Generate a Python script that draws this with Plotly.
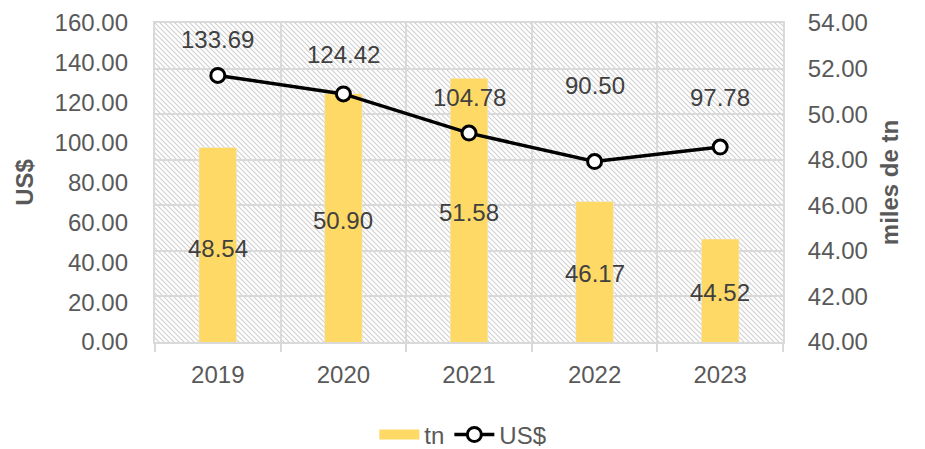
import base64
import plotly.graph_objects as go

# datos
years = ["2019", "2020", "2021", "2022", "2023"]
tn = [48.54, 50.90, 51.58, 46.17, 44.52]          # miles de tn (eje derecho)
usd = [133.69, 124.42, 104.78, 90.50, 97.78]      # US$ (eje izquierdo)

# posiciones de las etiquetas
tn_label_y = [44.11, 45.34, 45.69, 43.02, 42.19]
usd_label_y = [151.5, 144.2, 122.5, 128.5, 122.5]

FONT = "Liberation Sans, Arial, sans-serif"
FS = 24
GRID = "#d9d9d9"
TXT = "#595959"
LBL = "#404040"
BAR = "#FFD966"

# la página añade 8px de margen al body: se compensa aquí
W, H = 917, 441
M = dict(l=147, r=142, t=15, b=107)
pw, ph = W - M["l"] - M["r"], H - M["t"] - M["b"]

# fondo rayado del área de trazado (svg en línea)
svg = (
    f'<svg xmlns="http://www.w3.org/2000/svg" width="{pw}" height="{ph}">'
    '<defs><pattern id="h" width="5" height="5" patternUnits="userSpaceOnUse">'
    f'<path d="M-1,-1 L6,6 M-1,4 L1,6 M4,-1 L6,1" stroke="#cfcfcf" stroke-width="1.1"/>'
    '</pattern></defs>'
    f'<rect width="{pw}" height="{ph}" fill="url(#h)"/></svg>'
)
bg_src = "data:image/svg+xml;base64," + base64.b64encode(svg.encode()).decode()

fig = go.Figure()

fig.add_trace(go.Bar(
    x=years, y=tn, name="tn", yaxis="y", showlegend=False,
    marker_color=BAR, width=0.3,
))
# entrada de leyenda con muestra rectangular ancha (como en Excel)
fig.add_trace(go.Scatter(
    x=[None], y=[None], name="tn", yaxis="y", mode="lines",
    line=dict(color=BAR, width=16),
))
fig.add_trace(go.Scatter(
    x=years, y=usd, name="US$", yaxis="y2",
    mode="lines+markers",
    line=dict(color="black", width=3.5),
    marker=dict(size=14, color="white", line=dict(color="black", width=3)),
))

# etiquetas de datos (x como índice de categoría)
annotations = []
for i, (v, ly) in enumerate(zip(tn, tn_label_y)):
    annotations.append(dict(x=i, y=ly, xref="x", yref="y", text=f"{v:.2f}",
                            showarrow=False, font=dict(size=FS, color=LBL, family=FONT)))
for i, (v, ly) in enumerate(zip(usd, usd_label_y)):
    annotations.append(dict(x=i, y=ly, xref="x", yref="y2", text=f"{v:.2f}",
                            showarrow=False, font=dict(size=FS, color=LBL, family=FONT)))

fig.update_layout(
    width=W, height=H,
    margin=M,
    paper_bgcolor="white",
    plot_bgcolor="white",
    font=dict(family=FONT, size=FS, color=TXT),
    showlegend=True,
    legend=dict(orientation="h", xref="container", yref="container",
                x=0.496, xanchor="center", y=0.032, yanchor="middle",
                font=dict(size=FS, color=TXT), itemwidth=40, traceorder="normal"),
    annotations=annotations,
    images=[dict(source=bg_src, xref="paper", yref="paper", x=0, y=1,
                 sizex=1, sizey=1, sizing="stretch", layer="below")],
    xaxis=dict(
        type="category", range=[-0.5, 4.5], tickson="boundaries", automargin=False,
        showgrid=True, gridcolor=GRID, gridwidth=2,
        ticks="outside", ticklen=8, tickcolor=GRID, tickwidth=2,
        showline=True, linecolor=GRID, linewidth=2, mirror=True,
        ticklabelstandoff=10, tickfont=dict(size=FS, color=TXT),
    ),
    yaxis=dict(
        side="right", range=[40, 54], dtick=2, tickformat=".2f", automargin=False,
        showgrid=True, gridcolor=GRID, gridwidth=2,
        showline=True, linecolor=GRID, linewidth=2, mirror=True,
        ticks="", ticklabelstandoff=18, zeroline=False,
        title=dict(text="<b>miles de tn</b>", standoff=14,
                   font=dict(size=FS, color=TXT)),
    ),
    yaxis2=dict(
        side="left", overlaying="y", range=[0, 160], dtick=20, tickformat=".2f",
        automargin=False,
        showgrid=False, ticks="", ticklabelstandoff=26, zeroline=False,
        title=dict(text="<b>US$</b>", standoff=14,
                   font=dict(size=FS, color=TXT)),
    ),
)

fig.write_html("out.html")
